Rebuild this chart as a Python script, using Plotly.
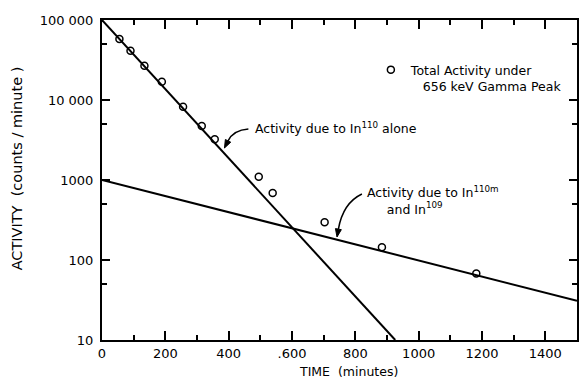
import math
import plotly.graph_objects as go

# ---- data ----
time_pts = [55, 90, 134, 189, 256, 315, 356, 495, 539, 703, 884, 1182]
activity_pts = [57900, 41300, 26800, 16900, 8250, 4730, 3240, 1100, 690, 296, 144, 68]

in110_t = [0, 926]
in110_a = [100000, 10]

in110m_t = [0, 1500]
in110m_a = [1000, 31]

x_major = [0, 200, 400, 600, 800, 1000, 1200, 1400]
x_labels = ["0", "200", "400", ".600", "800", "1000", "1200", "1400"]
x_minor = [100, 300, 500, 700, 900, 1100, 1300]
y_major = [10, 100, 1000, 10000, 100000]
y_labels = ["10", "100", "1000", "10 000", "100 000"]
y_minor = [50, 500, 5000, 50000]

FONT = "DejaVu Sans"
W, H = 581, 381
ML, MR, MT, MB = 102, 2, 20, 41
PW, PH = W - ML - MR, H - MT - MB


def px(x, y):
    return (x - ML) / PW, (H - MB - y) / PH


fig = go.Figure()
fig.add_trace(go.Scatter(x=in110_t, y=in110_a, mode="lines",
                         line=dict(color="black", width=2), showlegend=False))
fig.add_trace(go.Scatter(x=in110m_t, y=in110m_a, mode="lines",
                         line=dict(color="black", width=2), showlegend=False))
fig.add_trace(go.Scatter(x=time_pts, y=activity_pts, mode="markers",
                         name="Total Activity under<br>   656 keV Gamma Peak",
                         marker=dict(symbol="circle-open", size=7, color="black",
                                     line=dict(width=1.5))))

axis_common = dict(showline=True, linecolor="black", linewidth=2, mirror="ticks",
                   ticks="inside", tickcolor="black", tickwidth=1.5,
                   showgrid=False, zeroline=False,
                   tickfont=dict(family=FONT, size=13, color="black"))

fig.update_xaxes(range=[0, 1500], tickvals=x_major, ticktext=x_labels, ticklen=9,
                 minor=dict(tickvals=x_minor, ticklen=5, ticks="inside",
                            tickcolor="black", tickwidth=1.5, showgrid=False),
                 **axis_common)
fig.update_yaxes(type="log", range=[1, 5], tickvals=y_major, ticktext=y_labels, ticklen=8,
                 ticklabelstandoff=4,
                 minor=dict(tickvals=y_minor, ticklen=5, ticks="inside",
                            tickcolor="black", tickwidth=1.5, showgrid=False),
                 **axis_common)

annotations = []
# axis titles
x0, y0 = px(350, 371)
annotations.append(dict(x=x0, y=y0, xref="paper", yref="paper", showarrow=False,
                        xanchor="center", yanchor="middle",
                        text="TIME  (minutes)", font=dict(family=FONT, size=12.5, color="black")))
x0, y0 = px(17, 168)
annotations.append(dict(x=x0, y=y0, xref="paper", yref="paper", showarrow=False, textangle=-90,
                        xanchor="center", yanchor="middle",
                        text="ACTIVITY  (counts / minute )",
                        font=dict(family=FONT, size=14.5, color="black")))
# line labels
x0, y0 = px(254, 128)
annotations.append(dict(x=x0, y=y0, xref="paper", yref="paper", showarrow=False,
                        xanchor="left", yanchor="middle",
                        text="Activity due to In<sup>110</sup> alone",
                        font=dict(family=FONT, size=12.5, color="black")))
x0, y0 = px(366, 200)
annotations.append(dict(x=x0, y=y0, xref="paper", yref="paper", showarrow=False,
                        xanchor="left", yanchor="middle", align="left",
                        text="Activity due to In<sup>110m</sup><br>     and In<sup>109</sup>",
                        font=dict(family=FONT, size=12.5, color="black")))

shapes = []
# curved leader arrows (quadratic curve + filled head), pixel geometry converted to paper
for p0, c, p2 in [((249, 129), (234, 130), (225, 148)), ((363, 194), (344, 203), (338, 237))]:
    dx, dy = p2[0] - c[0], p2[1] - c[1]
    n = math.hypot(dx, dy)
    ux, uy = dx / n, dy / n
    L, Wd = 8, 3
    base = (p2[0] - ux * L, p2[1] - uy * L)
    left = (base[0] - uy * Wd, base[1] + ux * Wd)
    right = (base[0] + uy * Wd, base[1] - ux * Wd)
    a, b, d = px(*p0), px(*c), px(*base)
    shapes.append(dict(type="path", xref="paper", yref="paper",
                       path=f"M {a[0]},{a[1]} Q {b[0]},{b[1]} {d[0]},{d[1]}",
                       line=dict(color="black", width=1.5)))
    t, l, r = px(*p2), px(*left), px(*right)
    shapes.append(dict(type="path", xref="paper", yref="paper",
                       path=f"M {t[0]},{t[1]} L {l[0]},{l[1]} L {r[0]},{r[1]} Z",
                       fillcolor="black", line=dict(color="black", width=1)))

lx, ly = px(372, 55)
fig.update_layout(
    width=W, height=H,
    margin=dict(l=ML, r=MR, t=MT, b=MB),
    paper_bgcolor="white", plot_bgcolor="white",
    font=dict(family=FONT, color="black"),
    annotations=annotations, shapes=shapes,
    showlegend=True,
    legend=dict(x=lx, y=ly, xanchor="left", yanchor="top", valign="top",
                itemwidth=30, bgcolor="rgba(0,0,0,0)",
                font=dict(family=FONT, size=12.5, color="black")),
)

fig.write_html("out.html")
